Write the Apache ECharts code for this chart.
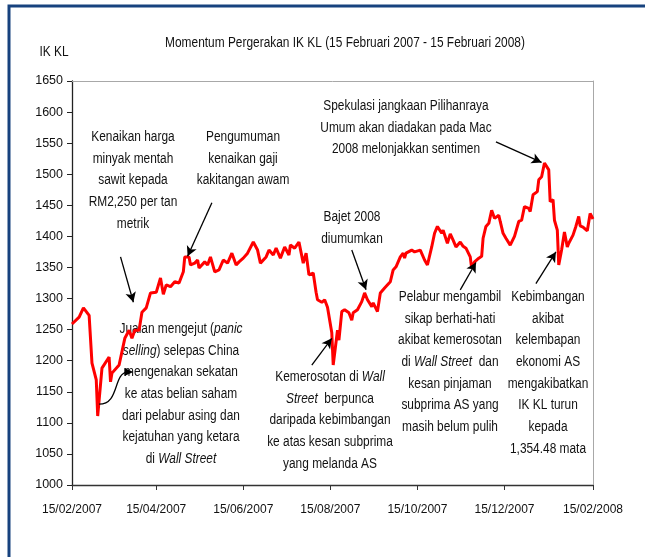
<!DOCTYPE html>
<html>
<head>
<meta charset="utf-8">
<title>Momentum Pergerakan IK KL</title>
<script src="https://cdn.jsdelivr.net/npm/echarts@6.0.0/dist/echarts.min.js"></script>
<style>
    html, body { margin: 0; padding: 0; background: #fff; }
    #klci_line { width: 645px; height: 557px; }
</style>
</head>
<body>
<div id="klci_line"></div>
<script>

// Chart data
// ------------------------------

var dates = [
    '2007-02-15','2007-02-20','2007-02-23','2007-02-27','2007-03-01','2007-03-04','2007-03-05','2007-03-08',
    '2007-03-13','2007-03-14','2007-03-15','2007-03-20','2007-03-24','2007-03-27','2007-03-29','2007-03-31',
    '2007-04-03','2007-04-05','2007-04-08','2007-04-11','2007-04-15','2007-04-18','2007-04-20','2007-04-22',
    '2007-04-25','2007-04-28','2007-05-01','2007-05-04','2007-05-05','2007-05-08','2007-05-09','2007-05-12',
    '2007-05-14','2007-05-15','2007-05-19','2007-05-21','2007-05-23','2007-05-26','2007-05-29','2007-06-01',
    '2007-06-04','2007-06-07','2007-06-10','2007-06-12','2007-06-15','2007-06-18','2007-06-22','2007-06-25',
    '2007-06-27','2007-07-01','2007-07-03','2007-07-06','2007-07-08','2007-07-11','2007-07-14','2007-07-17',
    '2007-07-18','2007-07-21','2007-07-24','2007-07-27','2007-07-29','2007-07-31','2007-08-03','2007-08-05',
    '2007-08-06','2007-08-09','2007-08-11','2007-08-13','2007-08-14','2007-08-16','2007-08-17','2007-08-20',
    '2007-08-21','2007-08-23','2007-08-25','2007-08-28','2007-08-30','2007-08-31','2007-09-03','2007-09-06',
    '2007-09-08','2007-09-10','2007-09-13','2007-09-14','2007-09-17','2007-09-19','2007-09-22','2007-09-26',
    '2007-09-28','2007-09-30','2007-10-03','2007-10-05','2007-10-06','2007-10-07','2007-10-11','2007-10-13',
    '2007-10-17','2007-10-20','2007-10-22','2007-10-25','2007-10-27','2007-10-29','2007-11-01','2007-11-02',
    '2007-11-05','2007-11-07','2007-11-09','2007-11-11','2007-11-14','2007-11-16','2007-11-18','2007-11-21',
    '2007-11-22','2007-11-24','2007-11-27','2007-11-29','2007-11-30','2007-12-02','2007-12-04','2007-12-06',
    '2007-12-08','2007-12-11','2007-12-12','2007-12-14','2007-12-16','2007-12-19','2007-12-22','2007-12-25',
    '2007-12-27','2007-12-29','2008-01-01','2008-01-02','2008-01-04','2008-01-07','2008-01-08','2008-01-10',
    '2008-01-12','2008-01-15','2008-01-16','2008-01-18','2008-01-19','2008-01-21','2008-01-22','2008-01-24',
    '2008-01-26','2008-01-28','2008-01-29','2008-02-01','2008-02-03','2008-02-05','2008-02-06','2008-02-08',
    '2008-02-11','2008-02-13','2008-02-15'
];

var values = [
    1259, 1270, 1285, 1273, 1196, 1169, 1111, 1188,
    1206, 1166, 1180, 1193, 1236, 1249, 1236, 1249,
    1249, 1278, 1285, 1309, 1310, 1333, 1307, 1322,
    1319, 1327, 1325, 1343, 1367, 1367, 1354, 1357,
    1362, 1349, 1359, 1354, 1367, 1343, 1346, 1362,
    1357, 1373, 1354, 1359, 1365, 1373, 1391, 1378,
    1357, 1367, 1378, 1370, 1381, 1365, 1383, 1370,
    1386, 1381, 1391, 1357, 1373, 1338, 1341, 1310,
    1298, 1294, 1298, 1286, 1287, 1245, 1193, 1249,
    1233, 1279, 1282, 1277, 1265, 1277, 1282, 1295,
    1309, 1298, 1287, 1293, 1279, 1309, 1317, 1327,
    1346, 1351, 1367, 1373, 1365, 1373, 1378, 1375,
    1378, 1362, 1354, 1383, 1405, 1416, 1405, 1410,
    1389, 1404, 1394, 1383, 1391, 1384, 1381, 1367,
    1349, 1359, 1365, 1368, 1397, 1416, 1421, 1442,
    1429, 1434, 1424, 1405, 1397, 1386, 1400, 1424,
    1426, 1448, 1445, 1440, 1467, 1472, 1491, 1496,
    1518, 1507, 1456, 1459, 1426, 1410, 1354, 1378,
    1407, 1383, 1389, 1402, 1416, 1432, 1417, 1415,
    1409, 1437, 1428
];

var tickDates = ['2007-02-15', '2007-04-15', '2007-06-15', '2007-08-15', '2007-10-15', '2007-12-15', '2008-02-15'];

// Annotation arrows: tail and head as [date, value]
var arrowTails = [
    ['2007-03-21', 1367], ['2007-05-24', 1454], ['2007-08-30', 1378], ['2007-08-02', 1193],
    ['2007-12-09', 1552], ['2007-11-14', 1314], ['2008-01-06', 1324]
];
var arrowHeads = [
    ['2007-03-30', 1294], ['2007-05-07', 1368], ['2007-09-09', 1314], ['2007-08-16', 1236],
    ['2008-01-10', 1519], ['2007-11-25', 1358], ['2008-01-20', 1375]
];

// Curved arrow from the March low to the "Jualan mengejut" note
var curvedTail = ['2007-03-06', 1130];
var curvedHead = ['2007-03-30', 1182];

// Annotation texts (first line centre x, first line centre y)
var notes = [
    { x: 133, y: 137, text: 'Kenaikan harga\nminyak mentah\nsawit kepada\nRM2,250 per tan\nmetrik' },
    { x: 243, y: 137, text: 'Pengumuman\nkenaikan gaji\nkakitangan awam' },
    { x: 352, y: 217, text: 'Bajet 2008\ndiumumkan' },
    { x: 406, y: 106, text: 'Spekulasi jangkaan Pilihanraya\nUmum akan diadakan pada Mac\n2008 melonjakkan sentimen' },
    { x: 181, y: 329, text: 'Jualan mengejut ({i|panic}\n{i|selling}) selepas China\nmengenakan sekatan\nke atas belian saham\ndari pelabur asing dan\nkejatuhan yang ketara\ndi {i|Wall Street}' },
    { x: 330, y: 377, text: 'Kemerosotan di {i|Wall}\n{i|Street}  berpunca\ndaripada kebimbangan\nke atas kesan subprima\nyang melanda AS' },
    { x: 450, y: 297, text: 'Pelabur mengambil\nsikap berhati-hati\nakibat kemerosotan\ndi {i|Wall Street}  dan\nkesan pinjaman\nsubprima AS yang\nmasih belum pulih' },
    { x: 548, y: 297, text: 'Kebimbangan\nakibat\nkelembapan\nekonomi AS\nmengakibatkan\nIK KL turun\nkepada\n1,354.48 mata' }
];


// Setup module
// ------------------------------

var EchartsKlciLine = function() {

    var FONT = '"Liberation Sans", Arial, sans-serif';
    var LINE_H = 21.7;
    var SQUEEZE = 0.85;   // reference uses a narrow face

    var toTime = function(s) {
        var p = s.split('-');
        return new Date(+p[0], +p[1] - 1, +p[2]).getTime();
    };

    var _klciLine = function() {
        if (typeof echarts == 'undefined') {
            console.warn('Warning - echarts.min.js is not loaded.');
            return;
        }

        var klci_element = document.getElementById('klci_line');
        if (!klci_element) return;

        var klci_chart = echarts.init(klci_element, null, { renderer: 'canvas' });

        var seriesData = dates.map(function(d, i) {
            return [toTime(d), values[i]];
        });
        var ticks = tickDates.map(toTime);
        var tMin = ticks[0], tMax = ticks[ticks.length - 1];

        var arrows = arrowTails.map(function(t, i) {
            return [
                { coord: [toTime(t[0]), t[1]] },
                { coord: [toTime(arrowHeads[i][0]), arrowHeads[i][1]] }
            ];
        });

        // Frame, title and annotation text blocks
        var textEl = function(x, y, text, valign) {
            return {
                type: 'text',
                x: x,
                y: y,
                scaleX: SQUEEZE,
                silent: true,
                style: {
                    text: text,
                    fontFamily: FONT,
                    fontSize: 14,
                    lineHeight: LINE_H,
                    fill: '#111',
                    textAlign: 'center',
                    textVerticalAlign: valign,
                    rich: {
                        i: { fontFamily: FONT, fontSize: 14, fontStyle: 'italic', lineHeight: LINE_H, fill: '#111' }
                    }
                }
            };
        };

        var graphics = [
            {
                type: 'rect',
                shape: { x: 9, y: 6, width: 700, height: 700 },
                style: { fill: 'none', stroke: '#17427e', lineWidth: 3 },
                silent: true
            },
            textEl(345, 43, 'Momentum Pergerakan IK KL (15 Februari 2007 - 15 Februari 2008)', 'middle'),
            textEl(54, 52, 'IK KL', 'middle')
        ];

        notes.forEach(function(n) {
            graphics.push(textEl(n.x, n.y - LINE_H / 2, n.text, 'top'));
        });

        var dateLabel = function(v) {
            var d = new Date(v);
            var dd = ('0' + d.getDate()).slice(-2);
            var mm = ('0' + (d.getMonth() + 1)).slice(-2);
            return dd + '/' + mm + '/' + d.getFullYear();
        };

        klci_chart.setOption({
            animation: false,

            textStyle: {
                fontFamily: FONT,
                fontSize: 12
            },

            grid: {
                left: 72,
                right: 52,
                top: 81,
                bottom: 72
            },

            // Horizontal axis (timestamps on a value axis)
            xAxis: [{
                type: 'value',
                min: tMin,
                max: tMax,
                scale: true,
                axisLine: { onZero: false, lineStyle: { color: '#333', width: 1.3 } },
                axisTick: { show: true, length: 5, customValues: ticks, lineStyle: { color: '#333' } },
                axisLabel: {
                    customValues: ticks,
                    color: '#111',
                    fontSize: 12,
                    fontFamily: FONT,
                    margin: 19,
                    formatter: dateLabel
                },
                splitLine: { show: false }
            }, {
                type: 'value',
                position: 'top',
                min: tMin,
                max: tMax,
                scale: true,
                axisLine: { show: true, onZero: false, lineStyle: { color: '#a8a8a8', width: 1 } },
                axisTick: { show: false },
                axisLabel: { show: false },
                splitLine: { show: false }
            }],

            // Vertical axis
            yAxis: [{
                type: 'value',
                min: 1000,
                max: 1650,
                interval: 50,
                axisLine: { show: true, onZero: false, lineStyle: { color: '#222', width: 1.3 } },
                axisTick: { show: true, length: 5, lineStyle: { color: '#222' } },
                axisLabel: {
                    color: '#111',
                    fontSize: 12.5,
                    fontFamily: FONT,
                    margin: 9,
                    formatter: function(v) { return String(v); }
                },
                splitLine: { show: false }
            }, {
                type: 'value',
                position: 'right',
                min: 1000,
                max: 1650,
                interval: 50,
                axisLine: { show: true, onZero: false, lineStyle: { color: '#a8a8a8', width: 1 } },
                axisTick: { show: false },
                axisLabel: { show: false },
                splitLine: { show: false }
            }],

            series: [{
                name: 'IK KL',
                type: 'line',
                data: seriesData,
                showSymbol: false,
                symbol: 'none',
                lineStyle: { color: '#ff0000', width: 3 },
                z: 3,
                markLine: {
                    silent: true,
                    symbol: ['none', 'arrow'],
                    symbolSize: [8, 10],
                    label: { show: false },
                    lineStyle: { color: '#000', width: 1.3, type: 'solid' },
                    data: arrows
                }
            }],

            graphic: graphics
        });

        // Curved (S-shaped) arrow, placed through the grid's own scales
        var p0 = klci_chart.convertToPixel({ gridIndex: 0 }, [toTime(curvedTail[0]), curvedTail[1]]);
        var p1 = klci_chart.convertToPixel({ gridIndex: 0 }, [toTime(curvedHead[0]), curvedHead[1]]);
        var dx = p1[0] - p0[0];
        graphics.push({
            type: 'bezierCurve',
            silent: true,
            z: 10,
            shape: {
                x1: p0[0], y1: p0[1],
                cpx1: p0[0] + dx * 0.6, cpy1: p0[1],
                cpx2: p1[0] - dx * 0.6, cpy2: p1[1] + 2,
                x2: p1[0] - 6, y2: p1[1]
            },
            style: { fill: 'none', stroke: '#000', lineWidth: 1.3 }
        }, {
            type: 'polygon',
            silent: true,
            z: 10,
            shape: { points: [[p1[0], p1[1]], [p1[0] - 9, p1[1] - 4], [p1[0] - 9, p1[1] + 4]] },
            style: { fill: '#000' }
        });
        klci_chart.setOption({ graphic: graphics });
    };

    return {
        init: function() {
            _klciLine();
        }
    };
}();


// Initialize module
// ------------------------------

document.addEventListener('DOMContentLoaded', function() {
    EchartsKlciLine.init();
});
</script>
</body>
</html>
